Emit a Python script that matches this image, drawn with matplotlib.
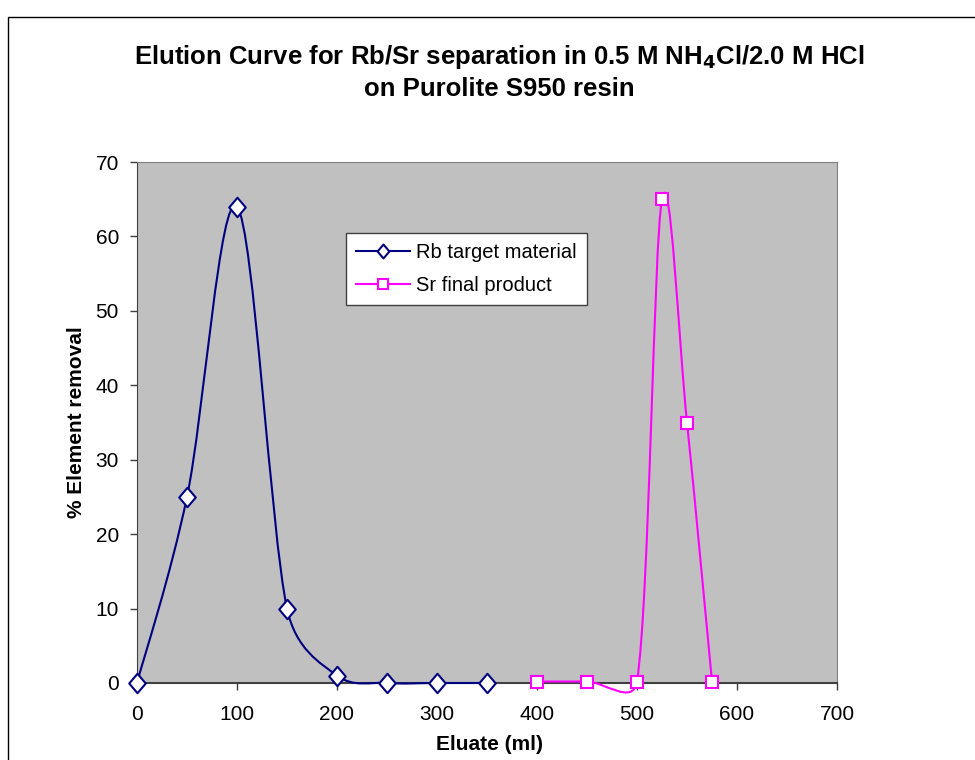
import matplotlib
matplotlib.use("Agg")
import matplotlib.pyplot as plt
import numpy as np
from matplotlib.path import Path
from matplotlib.patches import PathPatch, Rectangle

plt.rcParams["font.family"] = ["Liberation Sans", "DejaVu Sans"]

# Data
rb_eluate = [0, 50, 100, 150, 200, 250, 300, 350]
rb_removal = [0, 25, 64, 10, 1, 0, 0, 0]
sr_eluate = [400, 450, 500, 525, 550, 575]
sr_removal = [0.2, 0.2, 0.2, 65, 35, 0.2]

x_ticks = [0, 100, 200, 300, 400, 500, 600, 700]
y_ticks = [0, 10, 20, 30, 40, 50, 60, 70]

title = "Elution Curve for Rb/Sr separation in 0.5 M NH$_\\mathbf{4}$Cl/2.0 M HCl\non Purolite S950 resin"

# Excel-like tall diamond marker
tall_diamond = Path([(0, 1), (0.85, 0), (0, -1), (-0.85, 0), (0, 1)],
                    [Path.MOVETO, Path.LINETO, Path.LINETO, Path.LINETO, Path.CLOSEPOLY])


def excel_smooth_path(ax, xs, ys):
    """Bezier path like Excel's 'smoothed line', built in display space."""
    pts = ax.transData.transform(np.column_stack([xs, ys]))
    n = len(pts)
    verts = [pts[0]]
    codes = [Path.MOVETO]

    def ctrl(prev_i, next_i, seg_len):
        t = pts[next_i] - pts[prev_i]
        L = np.hypot(*t)
        if L == 0:
            return np.zeros(2)
        off = min(L / 6.0, seg_len / 2.0)
        return t / L * off

    for i in range(n - 1):
        p1, p2 = pts[i], pts[i + 1]
        d12 = np.hypot(*(p2 - p1))
        c1 = p1 + ctrl(max(i - 1, 0), i + 1, d12)
        c2 = p2 - ctrl(i, min(i + 2, n - 1), d12)
        verts += [c1, c2, p2]
        codes += [Path.CURVE4] * 3
    verts = ax.transData.inverted().transform(np.array(verts))
    return Path(verts, codes)


fig = plt.figure(figsize=(9.75, 7.6), dpi=100)
ax = fig.add_axes([137 / 975, 77 / 760, 700 / 975, 521 / 760])
ax.set_facecolor("#C0C0C0")
ax.set_xlim(0, 700)
ax.set_ylim(0, 70)
ax.set_xticks(x_ticks)
ax.set_yticks(y_ticks)
ax.tick_params(direction="out", length=5, width=1, color="#404040", labelsize=15)
ax.tick_params(axis="x", pad=11)
ax.tick_params(axis="y", pad=8)

for side in ["top", "right"]:
    ax.spines[side].set_color("#808080")
ax.spines["left"].set_color("#404040")
ax.spines["bottom"].set_color("#404040")
ax.spines["bottom"].set_linewidth(1.5)

rb_color = "#000080"
sr_color = "#FF00FF"

ax.add_patch(PathPatch(excel_smooth_path(ax, rb_eluate, rb_removal), fill=False,
                       edgecolor=rb_color, linewidth=1.5, clip_on=False, zorder=3))
ax.add_patch(PathPatch(excel_smooth_path(ax, sr_eluate, sr_removal), fill=False,
                       edgecolor=sr_color, linewidth=1.5, clip_on=False, zorder=3))

ax.plot(rb_eluate, rb_removal, linestyle="none", marker=tall_diamond, markersize=14,
        markerfacecolor="white", markeredgecolor=rb_color, markeredgewidth=1.5,
        clip_on=False, zorder=4)
ax.plot(sr_eluate, sr_removal, linestyle="none", marker="s", markersize=8.5,
        markerfacecolor="white", markeredgecolor=sr_color, markeredgewidth=1.5,
        clip_on=False, zorder=4)

# legend proxies
h_rb, = ax.plot([], [], color=rb_color, linewidth=1.5, marker=tall_diamond, markersize=10,
                markerfacecolor="white", markeredgecolor=rb_color, markeredgewidth=1.5)
h_sr, = ax.plot([], [], color=sr_color, linewidth=1.5, marker="s", markersize=7.5,
                markerfacecolor="white", markeredgecolor=sr_color, markeredgewidth=1.5)
leg = ax.legend([h_rb, h_sr], ["Rb target material", "Sr final product"],
                loc="upper left", bbox_to_anchor=(209 / 700, 1 - 71 / 521),
                fontsize=14.5, frameon=True, fancybox=False, framealpha=1,
                edgecolor="#404040", handlelength=2.7, handletextpad=0.3,
                borderpad=0.5, labelspacing=0.7, borderaxespad=0)
leg.get_frame().set_linewidth(1)

ax.set_xlabel("Eluate (ml)", fontsize=15, fontweight="bold")
ax.xaxis.set_label_coords((489 - 137) / 700, (683 - 744) / 521)
ax.xaxis.label.set_va("center")
ax.set_ylabel("% Element removal", fontsize=15, fontweight="bold")
ax.yaxis.set_label_coords((77 - 137) / 700, 0.5)
ax.yaxis.label.set_va("center")

fig.text(499 / 975, 1 - 72 / 760, title, ha="center", va="center",
         fontsize=18.5, fontweight="bold", linespacing=1.3)

# outer chart-area border (cut off at right and bottom like the reference)
fig.patches.append(Rectangle((8 / 975, -0.05), 1.1, 0.05 + 1 - 17 / 760,
                             transform=fig.transFigure, fill=False,
                             edgecolor="black", linewidth=1))

fig.savefig("out.png", dpi=100)
